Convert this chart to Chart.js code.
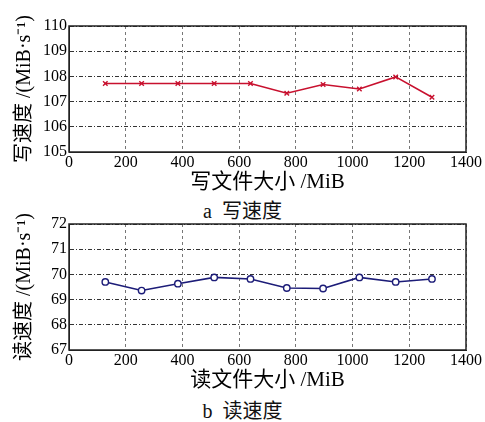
<!DOCTYPE html>
<html>
<head>
<meta charset="utf-8">
<script src="https://cdn.jsdelivr.net/npm/chart.js@4"></script>
<style>
  body { margin: 0; background: #fff; width: 485px; height: 422px; position: relative; overflow: hidden; }
  .box { position: absolute; left: 0; width: 485px; }
  .cap { position: absolute; left: 0; width: 485px; text-align: center; font: 20px "Liberation Serif", "Noto Sans CJK SC", serif; color: #111; }
</style>
</head>
<body>
<div class="box" style="top:0;height:195px"><canvas id="writeChart"></canvas></div>
<div class="cap" style="top:195px">a&nbsp;&nbsp;写速度</div>
<div class="box" style="top:198px;height:195px"><canvas id="readChart"></canvas></div>
<div class="cap" style="top:395px">b&nbsp;&nbsp;读速度</div>
<script>
const fileSizes = [128, 256, 384, 512, 640, 768, 896, 1024, 1152, 1280];
const writeSpeed = [107.72, 107.72, 107.72, 107.72, 107.72, 107.33, 107.68, 107.5, 107.98, 107.17];
const readSpeed = [69.70, 69.36, 69.63, 69.88, 69.82, 69.46, 69.44, 69.88, 69.70, 69.82];

const serif = '"Liberation Serif", "Times New Roman", serif';
const cjk = '"Liberation Serif", "Noto Sans CJK SC", serif';

const frame = {
  id: 'frame',
  afterDraw(chart) {
    const a = chart.chartArea, ctx = chart.ctx;
    ctx.save();
    ctx.strokeStyle = '#222';
    ctx.lineWidth = 1.5;
    ctx.strokeRect(a.left, a.top, a.right - a.left, a.bottom - a.top);
    ctx.restore();
  }
};

function makeChart(id, values, color, style, yMin, yMax, yTitle, xTitle) {
  return new Chart(document.getElementById(id), {
    type: 'line',
    data: {
      datasets: [{
        data: fileSizes.map((x, i) => ({ x: x, y: values[i] })),
        borderColor: color,
        backgroundColor: style === 'circle' ? '#fff' : color,
        borderWidth: 1.6,
        pointStyle: style,
        pointRadius: 3.2,
        pointBorderWidth: 1.4,
        tension: 0
      }]
    },
    options: {
      responsive: true,
      maintainAspectRatio: false,
      animation: false,
      layout: { padding: { top: 26, right: 19, left: 13, bottom: 0 } },
      plugins: { legend: { display: false }, tooltip: { enabled: false } },
      scales: {
        x: {
          type: 'linear', min: 0, max: 1400,
          ticks: { stepSize: 200, color: '#000', font: { family: serif, size: 16 }, padding: 1, maxRotation: 0,
                   callback: v => String(v) },
          grid: { color: '#777', drawTicks: false },
          border: { color: '#222', dash: [3, 3] },
          title: { display: true, text: xTitle, color: '#000', font: { family: cjk, size: 21 }, padding: { top: 0, bottom: 0 } },
          afterFit(s) { s.height = 43; }
        },
        y: {
          min: yMin, max: yMax,
          ticks: { stepSize: 1, color: '#000', font: { family: serif, size: 16 }, padding: 2 },
          grid: { color: '#333', drawTicks: false },
          border: { color: '#222', dash: [4, 2, 1, 2] },
          title: { display: true, text: yTitle, color: '#000', font: { family: cjk, size: 20 }, padding: { top: 0, bottom: 0 } },
          afterFit(s) { s.width = 56; }
        }
      }
    },
    plugins: [frame]
  });
}

makeChart('writeChart', writeSpeed, '#c8102e', 'crossRot', 105, 110, '写速度 /(MiB·s⁻¹)', '写文件大小 /MiB');
makeChart('readChart', readSpeed, '#1c1c78', 'circle', 67, 72, '读速度 /(MiB·s⁻¹)', '读文件大小 /MiB');
</script>
</body>
</html>
